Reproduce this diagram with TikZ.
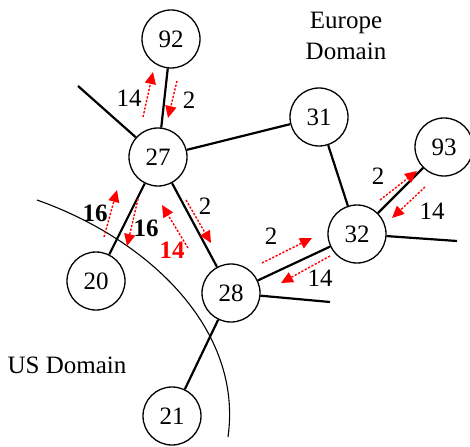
\documentclass[tikz,border=0pt]{standalone}
\usepackage{fontspec}
\setmainfont{Liberation Serif}
\usetikzlibrary{arrows.meta}
\begin{document}
\begin{tikzpicture}[x=1pt,y=-1pt,
  every node/.style={font=\fontsize{25}{31}\selectfont},
  router/.style={draw,circle,minimum size=58pt,inner sep=0pt,line width=1.3pt},
  link/.style={line width=2.2pt},
  flow/.style={red,line width=1.4pt,dash pattern=on 2.2pt off 1.6pt,
    -{Triangle[length=12pt,width=11pt]}},
  lbl/.style={inner sep=0pt},
  blbl/.style={inner sep=0pt,font=\fontsize{25}{31}\selectfont\bfseries}]
\useasboundingbox (0,0) rectangle (470,446);
% domain boundary
\draw[line width=1.1pt] (37,200) .. controls (150,240) and (243,330) .. (228,437);
% routers
\node[router] (n92) at (171,39) {92};
\node[router] (n27) at (158,157) {27};
\node[router] (n31) at (319,117) {31};
\node[router] (n93) at (444,147) {93};
\node[router] (n32) at (357,234) {32};
\node[router] (n20) at (96,281) {20};
\node[router] (n28) at (231,293) {28};
\node[router] (n21) at (172,416) {21};
% stub ends
\coordinate (s27) at (78,86);
\coordinate (s32) at (457,241);
\coordinate (s28) at (330,302);
% links
\draw[link] (n92) -- (n27);
\draw[link] (s27) -- (n27);
\draw[link] (n27) -- (n31);
\draw[link] (n27) -- (n20);
\draw[link] (n27) -- (n28);
\draw[link] (n31) -- (n32);
\draw[link] (n32) -- (n93);
\draw[link] (n32) -- (n28);
\draw[link] (n32) -- (s32);
\draw[link] (n28) -- (s28);
\draw[link] (n28) -- (n21);
% flow arrows
\coordinate (a1s) at (143,117); \coordinate (a1e) at (153,72);
\coordinate (a2s) at (177,81);  \coordinate (a2e) at (168,118);
\coordinate (a3s) at (104,237); \coordinate (a3e) at (117,190);
\coordinate (a4s) at (138,199); \coordinate (a4e) at (127,246);
\coordinate (a5s) at (188,248); \coordinate (a5e) at (162,205);
\coordinate (a6s) at (186,200); \coordinate (a6e) at (211,243);
\coordinate (a7s) at (262,263); \coordinate (a7e) at (312,238);
\coordinate (a8s) at (330,256); \coordinate (a8e) at (281,283);
\coordinate (a9s) at (380,200); \coordinate (a9e) at (417,171);
\coordinate (a10s) at (425,187); \coordinate (a10e) at (392,218);
\draw[flow] (a1s) -- (a1e);
\draw[flow] (a2s) -- (a2e);
\draw[flow] (a3s) -- (a3e);
\draw[flow] (a4s) -- (a4e);
\draw[flow] (a5s) -- (a5e);
\draw[flow] (a6s) -- (a6e);
\draw[flow] (a7s) -- (a7e);
\draw[flow] (a8s) -- (a8e);
\draw[flow] (a9s) -- (a9e);
\draw[flow] (a10s) -- (a10e);
% labels
\node[lbl] (l1) at (129,98) {14};
\node[lbl] (l2) at (189,100) {2};
\node[blbl] (l3) at (95,213) {16};
\node[blbl] (l4) at (146,228) {16};
\node[blbl,text=red] (l5) at (172,250) {14};
\node[lbl] (l6) at (205,206) {2};
\node[lbl] (l7) at (271,236) {2};
\node[lbl] (l8) at (320,278) {14};
\node[lbl] (l9) at (378,176) {2};
\node[lbl] (l10) at (432,211) {14};
% domain names
\node[align=center,inner sep=0pt] (eu) at (346,36) {Europe\\Domain};
\node[inner sep=0pt] (us) at (67,365) {US Domain};
\end{tikzpicture}
\end{document}
